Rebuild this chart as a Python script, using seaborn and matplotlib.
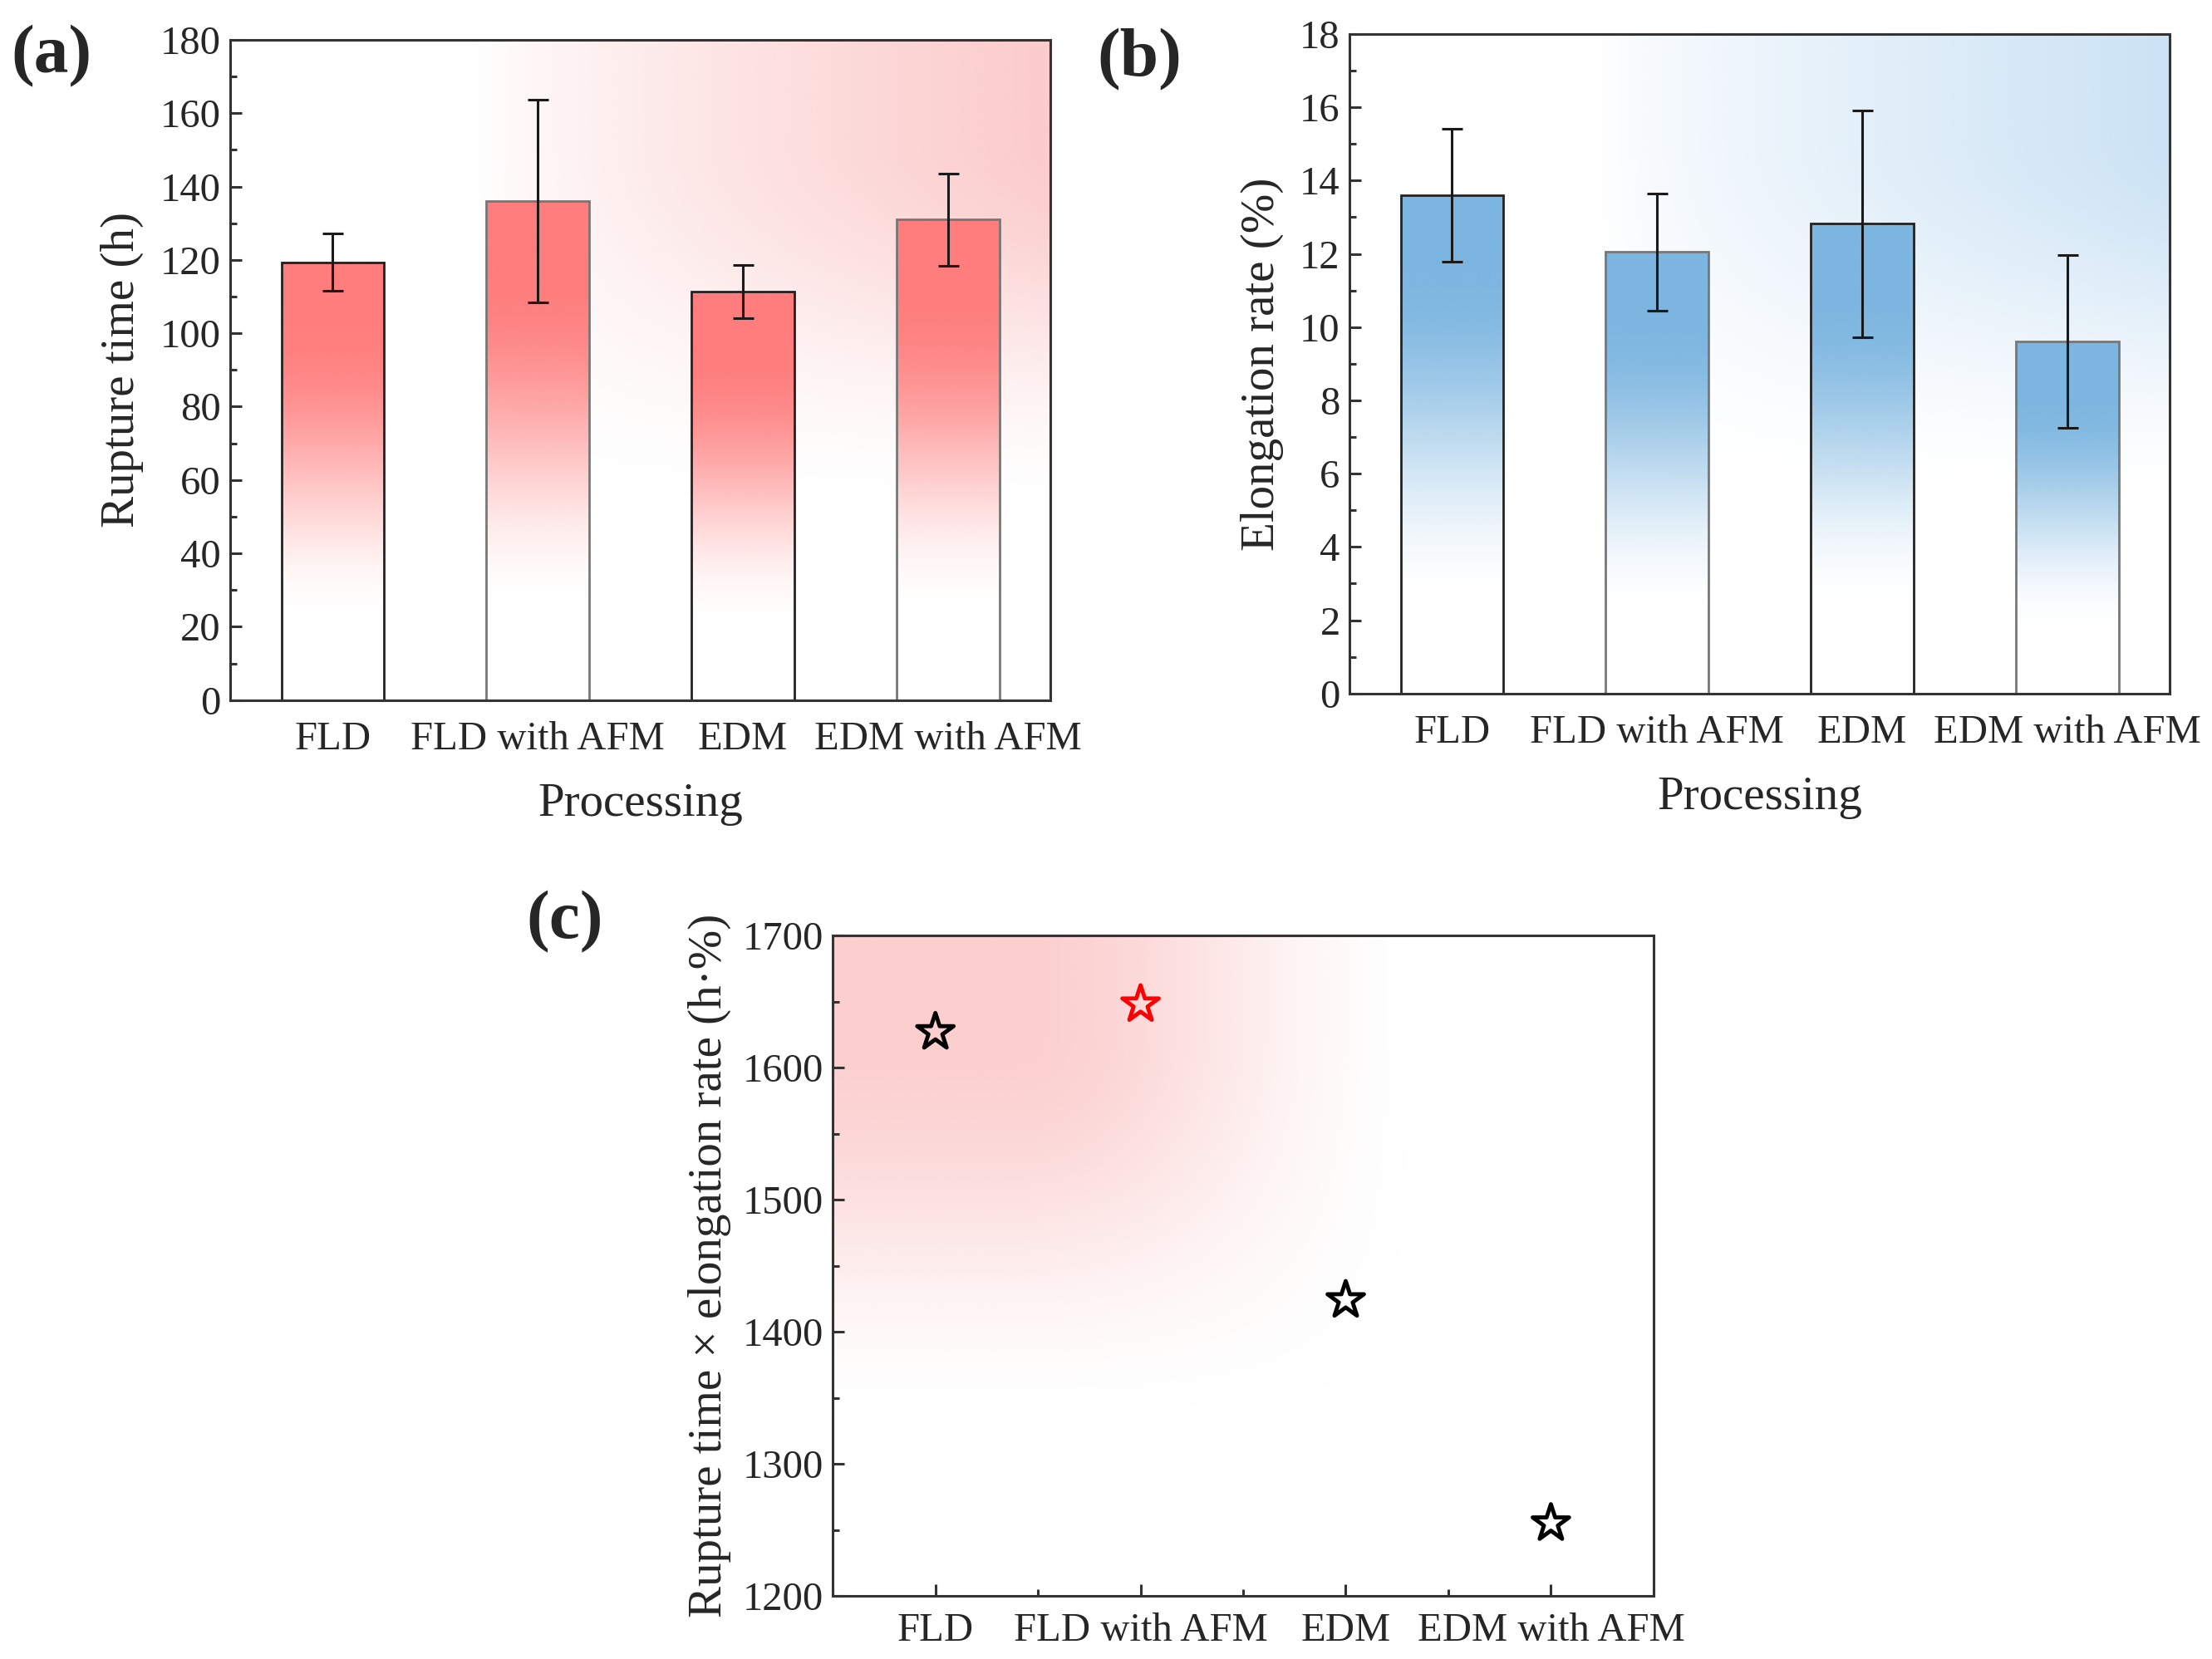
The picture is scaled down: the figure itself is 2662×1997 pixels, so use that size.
import numpy as np
import matplotlib
matplotlib.use("Agg")
import matplotlib.pyplot as plt
from matplotlib.ticker import MultipleLocator
import seaborn as sns

# data
processing = ["FLD", "FLD with AFM", "EDM", "EDM with AFM"]
rupture_time = [119.4, 136.0, 111.3, 131.0]
rupture_err = [7.8, 27.6, 7.2, 12.6]
elongation = [13.6, 12.05, 12.82, 9.61]
elongation_err = [1.82, 1.6, 3.1, 2.36]
product = [1627, 1648, 1424, 1255]
star_colors = ["black", "red", "black", "black"]

sns.set_style("ticks")
plt.rcParams['font.family'] = ['Liberation Serif', 'DejaVu Serif']

TICK_FS = 35
LABEL_FS = 41
SPINE_C = "#333333"


def smooth(a, lo, hi):
    t = np.clip((a - lo) / (hi - lo), 0, 1)
    return t * t * (3 - 2 * t)


def rgba_grad(color, alpha):
    img = np.zeros(alpha.shape + (4,))
    img[..., :3] = np.array(color) / 255.0
    img[..., 3] = alpha
    return img


def background(ax, color, alpha):
    ax.imshow(rgba_grad(color, alpha), extent=(0, 1, 0, 1), transform=ax.transAxes,
              origin="lower", aspect="auto", zorder=0, interpolation="bilinear")


def style_axes(ax, ylim, major, minor):
    ax.set_ylim(*ylim)
    ax.set_xlim(-0.5, 3.5)
    ax.yaxis.set_major_locator(MultipleLocator(major))
    ax.yaxis.set_minor_locator(MultipleLocator(minor))
    ax.tick_params(axis="y", which="major", direction="in", length=10, width=2.2,
                   labelsize=TICK_FS, pad=8, color=SPINE_C)
    ax.tick_params(axis="y", which="minor", direction="in", length=6, width=2.2, color=SPINE_C)
    ax.tick_params(axis="x", which="both", length=0, labelsize=TICK_FS, pad=18)
    for s in ax.spines.values():
        s.set_visible(True)
        s.set_linewidth(2.2)
        s.set_color(SPINE_C)
    ax.set_facecolor("none")


def gradient_bars(ax, color):
    ny = 200
    for i, p in enumerate(ax.patches):
        x0, w, h = p.get_x(), p.get_width(), p.get_height()
        t = np.linspace(0, 1, ny)[:, None] * np.ones((1, 2))
        alpha = smooth(t, 0.18, 0.85)
        ax.imshow(rgba_grad(color, alpha), extent=(x0, x0 + w, 0, h), origin="lower",
                  aspect="auto", zorder=1, interpolation="bilinear")
        p.set_facecolor("none")
        p.set_zorder(2)
        p.set_linewidth(2.0)
        p.set_edgecolor("#222222" if i % 2 == 0 else "#777777")


def bar_panel(ax, values, errs, bar_color, bg_color, ylim, major, minor, ylabel):
    sns.barplot(x=processing, y=values, ax=ax, width=0.5, color="white", zorder=2)
    gradient_bars(ax, bar_color)
    ax.errorbar(range(len(values)), values, yerr=errs, fmt="none", ecolor="#1a1a1a",
                elinewidth=2.2, capsize=9, capthick=2.2, zorder=3)
    u = np.linspace(0, 1, 300)[None, :]
    v = np.linspace(0, 1, 300)[:, None]
    hx = np.clip((u - 0.3) / 0.7, 0, 1) ** 0.8
    alpha = hx * smooth(v, 0.28, 0.85)
    background(ax, bg_color, alpha)
    style_axes(ax, ylim, major, minor)
    ax.set_ylabel(ylabel, fontsize=LABEL_FS, labelpad=14)
    ax.set_xlabel("Processing", fontsize=LABEL_FS, labelpad=22)


fig = plt.figure(figsize=(26.62, 19.97), dpi=100)
ax_a = fig.add_axes([0.104, 0.578, 0.371, 0.398])
ax_b = fig.add_axes([0.610, 0.582, 0.371, 0.3975])
ax_c = fig.add_axes([0.3765, 0.038, 0.371, 0.398])

bar_panel(ax_a, rupture_time, rupture_err, (255, 125, 125), (252, 203, 203),
          (0, 180), 20, 10, "Rupture time (h)")
bar_panel(ax_b, elongation, elongation_err, (124, 182, 224), (204, 227, 245),
          (0, 18), 2, 1, "Elongation rate (%)")

# panel (c)
sns.scatterplot(x=processing, y=product, ax=ax_c, marker="*", s=1100,
                hue=processing, palette=star_colors, legend=False,
                linewidth=3.5, zorder=3)
for coll in ax_c.collections:
    coll.set_facecolor("none")
    coll.set_edgecolors(star_colors)
    coll.set_linewidth(3.5)
u = np.linspace(0, 1, 300)[None, :]
v = np.linspace(0, 1, 300)[:, None]
alpha_c = (1 - smooth(u, 0.22, 0.72)) * smooth(v, 0.26, 0.85)
background(ax_c, (252, 207, 207), alpha_c)
style_axes(ax_c, (1200, 1700), 100, 50)
ax_c.xaxis.set_minor_locator(MultipleLocator(0.5))
ax_c.tick_params(axis="x", which="both", direction="in", length=10, width=2.2,
                 color=SPINE_C, labelsize=TICK_FS, pad=14)
ax_c.tick_params(axis="x", which="minor", length=6)
ax_c.set_ylabel("Rupture time \u00d7 elongation rate (h\u00b7%)", fontsize=LABEL_FS, labelpad=10)

fig.text(0.005, 0.966, "(a)", fontsize=60, fontweight="bold", va="center", ha="left")
fig.text(0.496, 0.964, "(b)", fontsize=60, fontweight="bold", va="center", ha="left")
fig.text(0.238, 0.444, "(c)", fontsize=60, fontweight="bold", va="center", ha="left")

fig.savefig("out.png", dpi=100)
